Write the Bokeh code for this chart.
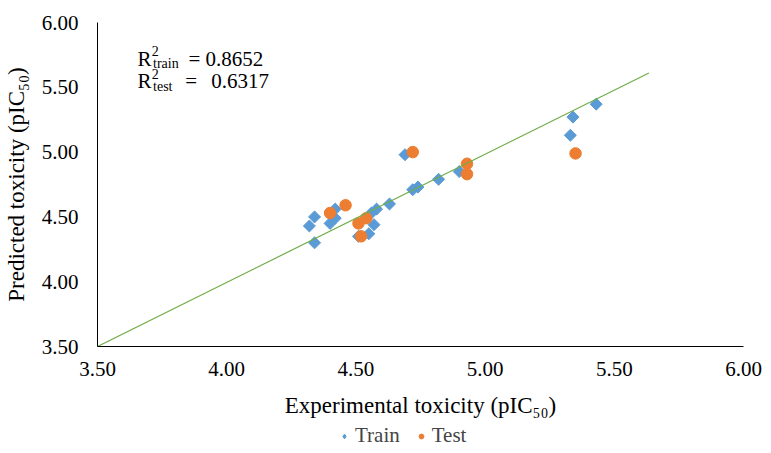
import numpy as np
from bokeh.plotting import figure
from bokeh.layouts import column
from bokeh.models import Range1d, FixedTicker, NumeralTickFormatter, Legend, LegendItem, Label
from bokeh.embed import file_html
from bokeh.resources import INLINE

# ---- data ----
train_x = [4.34, 4.32, 4.34, 4.40, 4.42, 4.42, 4.56, 4.58, 4.57, 4.55, 4.51, 4.63, 4.69, 4.72, 4.74, 4.82, 4.90, 5.33, 5.34, 5.43]
train_y = [4.50, 4.43, 4.30, 4.45, 4.56, 4.49, 4.53, 4.56, 4.44, 4.37, 4.35, 4.60, 4.98, 4.71, 4.73, 4.79, 4.85, 5.13, 5.27, 5.37]
test_x = [4.40, 4.46, 4.51, 4.54, 4.52, 4.72, 4.93, 4.93, 5.35]
test_y = [4.53, 4.59, 4.45, 4.49, 4.35, 5.00, 4.91, 4.83, 4.99]
fit_x = [3.50, 5.634]
fit_y = [3.50, 5.611]
ticks = [3.5, 4.0, 4.5, 5.0, 5.5, 6.0]
r2_train = "0.8652"
r2_test = "0.6317"

FONT = "Liberation Serif"
BLUE = "#5B9BD5"
ORANGE = "#ED7D31"
GREEN = "#70AD47"

p = figure(frame_width=646, frame_height=324, output_backend="svg", toolbar_location=None,
           x_range=Range1d(3.5, 6.0), y_range=Range1d(3.5, 6.0),
           min_border_left=97, min_border_right=20, min_border_top=22, min_border_bottom=0)
p.outline_line_color = None
p.grid.visible = False
p.background_fill_color = "white"

for ax in (p.xaxis[0], p.yaxis[0]):
    ax.ticker = FixedTicker(ticks=ticks)
    ax.formatter = NumeralTickFormatter(format="0.00")
    ax.major_tick_in = 0
    ax.major_tick_out = 0
    ax.minor_tick_in = 0
    ax.minor_tick_out = 0
    ax.axis_line_color = "black"
    ax.axis_line_width = 1
    ax.major_label_text_font = FONT
    ax.major_label_text_font_size = "21px"
    ax.major_label_text_color = "black"
    ax.axis_label_text_font = FONT
    ax.axis_label_text_font_size = "23px"
    ax.axis_label_text_font_style = "normal"
    ax.axis_label_text_color = "black"

p.xaxis.axis_label = "Experimental toxicity (pIC\u2085\u2080)"
p.yaxis.axis_label = "Predicted toxicity (pIC\u2085\u2080)"
p.xaxis.major_label_standoff = 15
p.xaxis.axis_label_standoff = 14
p.yaxis.major_label_standoff = 19
p.yaxis.axis_label_standoff = 10

p.scatter(train_x, train_y, marker="square", size=8.5, angle=np.pi / 4,
          fill_color=BLUE, line_color=BLUE)
p.scatter(test_x, test_y, marker="circle", size=11.5,
          fill_color=ORANGE, line_color=ORANGE)
p.line(fit_x, fit_y, line_color=GREEN, line_width=1.2)

# R^2 annotation pieces
def lab(x, y, t, size):
    p.add_layout(Label(x=x, y=y, text=t, text_font=FONT, text_font_size=size,
                       text_color="black", text_baseline="alphabetic", text_align="left"))

lab(3.655, 5.721, "R", "21px")
lab(3.710, 5.780, "2", "14px")
lab(3.715, 5.680, "train", "14px")
lab(3.852, 5.721, "= " + r2_train, "21px")
lab(3.655, 5.545, "R", "21px")
lab(3.710, 5.604, "2", "14px")
lab(3.715, 5.504, "test", "14px")
lab(3.840, 5.545, "=", "21px")
lab(3.940, 5.545, r2_test, "21px")

# legend strip (same series; data lie outside this strip's ranges, only legend glyphs show)
q = figure(frame_width=646, frame_height=28, output_backend="svg", toolbar_location=None,
           x_range=Range1d(0, 1), y_range=Range1d(0, 1),
           x_axis_location=None, y_axis_location=None,
           min_border_left=97, min_border_right=20, min_border_top=0, min_border_bottom=0)
q.outline_line_color = None
q.grid.visible = False
lt = q.scatter(train_x, train_y, marker="diamond", size=13,
               fill_color=BLUE, line_color=BLUE)
le = q.scatter(test_x, test_y, marker="circle", size=11.5,
               fill_color=ORANGE, line_color=ORANGE)
legend = Legend(items=[LegendItem(label="Train", renderers=[lt]),
                       LegendItem(label="Test", renderers=[le])],
                orientation="horizontal", location=(241, 0),
                label_text_font=FONT, label_text_font_size="21px",
                glyph_width=12, glyph_height=12, label_standoff=5, spacing=15,
                padding=0, margin=0, border_line_alpha=0, background_fill_alpha=0)
q.add_layout(legend, "center")

layout = column(p, q, spacing=0)
open("out.html", "w").write(file_html(layout, INLINE))
